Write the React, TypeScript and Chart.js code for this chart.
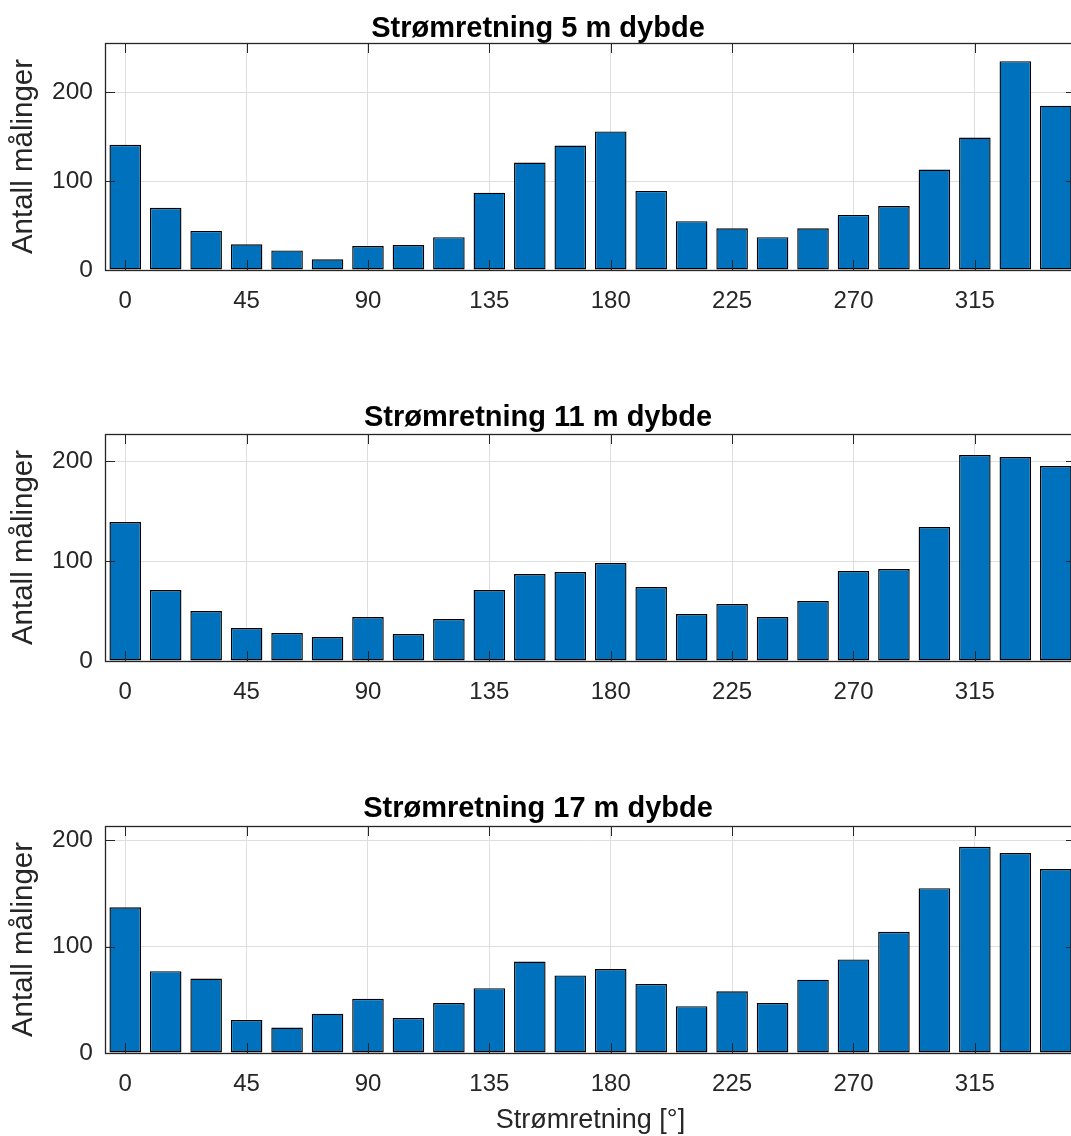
import React, { useEffect, useRef } from 'react';
import { Chart, registerables } from 'chart.js';

Chart.register(...registerables);

// ---- data ----
const directions = [0, 15, 30, 45, 60, 75, 90, 105, 120, 135, 150, 165, 180, 195, 210, 225, 240, 255, 270, 285, 300, 315, 330, 345];
const counts5m = [141, 70, 44, 29, 22, 12, 27, 28, 37, 87, 121, 140, 156, 89, 55, 47, 37, 47, 62, 72, 113, 149, 235, 185];
const counts11m = [139, 71, 50, 33, 28, 24, 44, 27, 42, 71, 87, 89, 98, 74, 47, 57, 44, 60, 90, 92, 134, 206, 204, 195];
const counts17m = [137, 77, 70, 31, 24, 37, 51, 33, 47, 61, 86, 73, 79, 65, 44, 58, 47, 69, 88, 114, 155, 194, 188, 173];
const panelTitles = ['Strømretning 5 m dybde', 'Strømretning 11 m dybde', 'Strømretning 17 m dybde'];
const panelYMax = [255.5, 227, 213.5];
const xTickValues = [0, 45, 90, 135, 180, 225, 270, 315];
const yTickValues = [0, 100, 200];
const xMin = -7.5;
const xMax = 352.5;
const yAxisLabel = 'Antall målinger';
const xAxisLabel = 'Strømretning [°]';

const FONT = "'Liberation Sans', Arial, Helvetica, sans-serif";
const BAR_COLOR = '#0072BD';
const AXIS_COLOR = '#262626';
const GRID_COLOR = '#dedede';

const CANVAS_W = 1090;
const AREA_TOP = 43;
const AREA_H = 227;
const Y_AXIS_W = 105;
const AREA_RIGHT = 1076;
const TITLE_SIZE = 29;
const titlePadTop = [14, 12.8, 11.6];

const boxPlugin = {
  id: 'matlabBox',
  afterDatasetsDraw(chart: any) {
    const { ctx, chartArea: a, scales } = chart;
    const tl = 10;
    ctx.save();
    ctx.strokeStyle = AXIS_COLOR;
    ctx.lineWidth = 1;
    ctx.beginPath();
    xTickValues.forEach((v) => {
      const px = Math.round(scales.x.getPixelForValue(v)) + 0.5;
      ctx.moveTo(px, a.bottom);
      ctx.lineTo(px, a.bottom - tl);
      ctx.moveTo(px, a.top);
      ctx.lineTo(px, a.top + tl);
    });
    yTickValues.forEach((v) => {
      const py = Math.round(scales.y.getPixelForValue(v)) + 0.5;
      ctx.moveTo(a.left, py);
      ctx.lineTo(a.left + tl, py);
      ctx.moveTo(a.right, py);
      ctx.lineTo(a.right - tl, py);
    });
    ctx.stroke();
    ctx.lineWidth = 1.3;
    ctx.strokeRect(Math.round(a.left) + 0.5, Math.round(a.top) + 0.5, Math.round(a.right - a.left), Math.round(a.bottom - a.top));
    ctx.restore();
  },
};

type PanelProps = { values: number[]; title: string; yMax: number; showXLabel: boolean; top: number; padTop: number };

function Panel({ values, title, yMax, showXLabel, top, padTop }: PanelProps) {
  const ref = useRef<HTMLCanvasElement | null>(null);
  const xAxisH = showXLabel ? 85 : 50;
  const height = AREA_TOP + AREA_H + xAxisH;

  useEffect(() => {
    if (!ref.current) return;
    const chart = new Chart(ref.current, {
      type: 'bar',
      data: {
        datasets: [
          {
            data: directions.map((d, i) => ({ x: d, y: values[i] })),
            backgroundColor: BAR_COLOR,
            borderColor: '#000000',
            borderWidth: 1.4,
            borderSkipped: false,
            barPercentage: 0.78,
            categoryPercentage: 1.0,
          } as any,
        ],
      },
      plugins: [boxPlugin],
      options: {
        animation: false,
        responsive: false,
        devicePixelRatio: 1,
        layout: { padding: { left: 0, right: CANVAS_W - AREA_RIGHT, top: 0, bottom: 0 } },
        plugins: {
          legend: { display: false },
          tooltip: { enabled: false },
          title: {
            display: true,
            text: title,
            color: '#000',
            font: { family: FONT, size: TITLE_SIZE, weight: 'bold', lineHeight: 1.0 },
            padding: { top: padTop, bottom: AREA_TOP - TITLE_SIZE - padTop },
          },
        },
        scales: {
          x: {
            type: 'linear',
            min: xMin,
            max: xMax,
            offset: false,
            afterBuildTicks: (axis: any) => {
              axis.ticks = xTickValues.map((v) => ({ value: v }));
            },
            afterFit: (scale: any) => {
              scale.height = xAxisH;
            },
            grid: { color: GRID_COLOR, drawTicks: false, offset: false },
            border: { display: false },
            ticks: {
              color: AXIS_COLOR,
              font: { family: FONT, size: 24 },
              padding: 17,
              autoSkip: false,
              maxRotation: 0,
            },
            title: {
              display: showXLabel,
              text: xAxisLabel,
              color: AXIS_COLOR,
              font: { family: FONT, size: 27 },
              padding: { top: 0, bottom: 0.8 },
            },
          },
          y: {
            type: 'linear',
            min: 0,
            max: yMax,
            afterBuildTicks: (axis: any) => {
              axis.ticks = yTickValues.map((v) => ({ value: v }));
            },
            afterFit: (scale: any) => {
              scale.width = Y_AXIS_W;
            },
            grid: { color: GRID_COLOR, drawTicks: false },
            border: { display: false },
            ticks: {
              color: AXIS_COLOR,
              font: { family: FONT, size: 24.5 },
              padding: 12,
            },
            title: {
              display: true,
              text: yAxisLabel,
              color: AXIS_COLOR,
              font: { family: FONT, size: 29.5 },
              padding: { top: 6.5, bottom: 0 },
            },
          },
        },
      } as any,
    });
    return () => chart.destroy();
  }, [values, title, yMax, showXLabel, padTop]);

  return (
    <canvas
      ref={ref}
      width={CANVAS_W}
      height={height}
      style={{ position: 'absolute', left: 0, top, width: CANVAS_W, height }}
    />
  );
}

export default function App() {
  const series = [counts5m, counts11m, counts17m];
  const tops = [0, 391, 783];
  return (
    <div
      style={{
        position: 'fixed',
        left: 0,
        top: 0,
        width: 1071,
        height: 1136,
        overflow: 'hidden',
        background: '#fff',
      }}
    >
      {series.map((vals, i) => (
        <Panel
          key={i}
          values={vals}
          title={panelTitles[i]}
          yMax={panelYMax[i]}
          showXLabel={i === 2}
          top={tops[i]}
          padTop={titlePadTop[i]}
        />
      ))}
    </div>
  );
}
